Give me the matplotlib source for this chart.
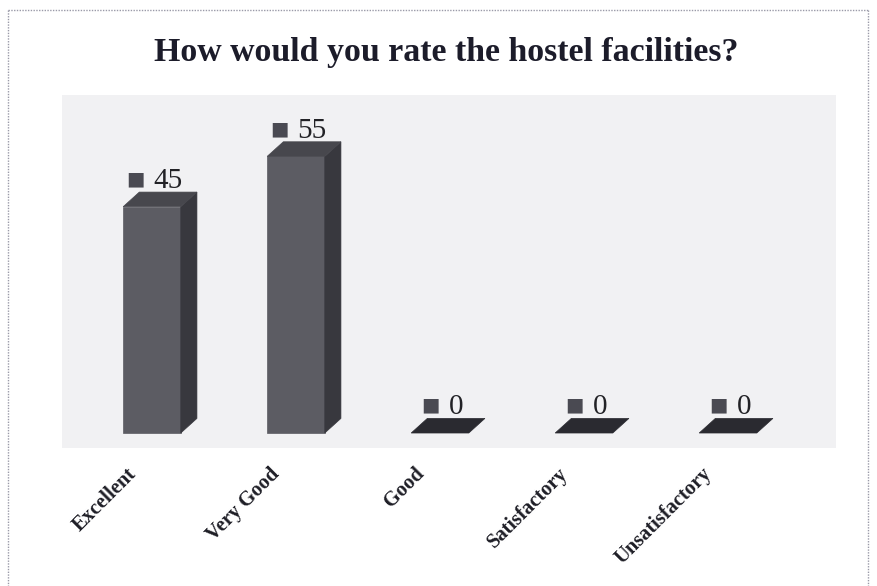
import matplotlib
matplotlib.use("Agg")
import matplotlib.pyplot as plt
from matplotlib.patches import Polygon
from matplotlib.lines import Line2D

# Survey responses
categories = ["Excellent", "Very Good", "Good", "Satisfactory", "Unsatisfactory"]
responses = [45, 55, 0, 0, 0]

W, H, DPI = 877, 586, 100
fig = plt.figure(figsize=(W / DPI, H / DPI), dpi=DPI)
fig.patch.set_facecolor("white")

# dotted frame around the chart
frame_kw = dict(color="#9a9aa8", lw=1.0, ls=(0, (1, 1)))
fig.add_artist(Line2D([8 / W, 868 / W], [1 - 10 / H, 1 - 10 / H], transform=fig.transFigure, **frame_kw))
fig.add_artist(Line2D([8 / W, 8 / W], [1 - 10 / H, 0], transform=fig.transFigure, **frame_kw))
fig.add_artist(Line2D([868 / W, 868 / W], [1 - 10 / H, 0], transform=fig.transFigure, **frame_kw))

# plot area
left, right, top, bottom = 62, 836, 95, 448
ax = fig.add_axes([left / W, 1 - bottom / H, (right - left) / W, (bottom - top) / H])
ax.set_facecolor("#f1f1f3")
for s in ax.spines.values():
    s.set_visible(False)
ax.set_xticks([])
ax.set_yticks([])

ax.set_xlim(-0.625, 4.75)
ax.set_ylim(-2.98, 67.2)

half_w = 0.20   # half width of the front face
dx = 0.112      # depth offset, category units
dy = 2.9        # depth offset, value units

front_c = "#5c5c63"
side_c = "#38383e"
top_c = "#47474d"
flat_c = "#2a2a30"
marker_c = "#4a4a52"

for i, v in enumerate(responses):
    x0, x1 = i - half_w, i + half_w
    if v > 0:
        ax.add_patch(Polygon([(x0, 0), (x1, 0), (x1, v), (x0, v)], closed=True,
                             facecolor=front_c, edgecolor=front_c, lw=0.5))
        ax.add_patch(Polygon([(x1, 0), (x1 + dx, dy), (x1 + dx, v + dy), (x1, v)], closed=True,
                             facecolor=side_c, edgecolor=side_c, lw=0.5))
        ax.add_patch(Polygon([(x0, v), (x1, v), (x1 + dx, v + dy), (x0 + dx, v + dy)], closed=True,
                             facecolor=top_c, edgecolor=top_c, lw=0.5))
    else:
        ax.add_patch(Polygon([(x0, 0), (x1, 0), (x1 + dx, dy), (x0 + dx, dy)], closed=True,
                             facecolor=flat_c, edgecolor=flat_c, lw=0.5))

    # value label: small square followed by the number
    txt = str(v)
    total = 13 + 12 + 15 * len(txt)
    start = -total / 2 + 4
    ax.annotate("■", xy=(i, v + dy), xycoords="data", textcoords="offset pixels",
                xytext=(start + 6.5, 13), ha="center", va="center",
                fontsize=14, family="DejaVu Sans", color=marker_c)
    ax.annotate(txt, xy=(i, v + dy), xycoords="data", textcoords="offset pixels",
                xytext=(start + 25, 11), ha="left", va="center",
                fontsize=21, family="Liberation Serif", color="#222226")

    # category label, rotated
    ax.annotate(categories[i], xy=(i, 0), xycoords=("data", "axes fraction"),
                textcoords="offset pixels", xytext=(-12, -16), ha="right", va="top",
                rotation=45, fontsize=14.8, fontweight="bold",
                family="Liberation Serif", color="#1e1e26", annotation_clip=False)

fig.text(446 / W, 1 - 52 / H, "How would you rate the hostel facilities?",
         ha="center", va="center", fontsize=24.4, fontweight="bold",
         family="Liberation Serif", color="#1c1c2a")

fig.savefig("out.png", dpi=DPI)
